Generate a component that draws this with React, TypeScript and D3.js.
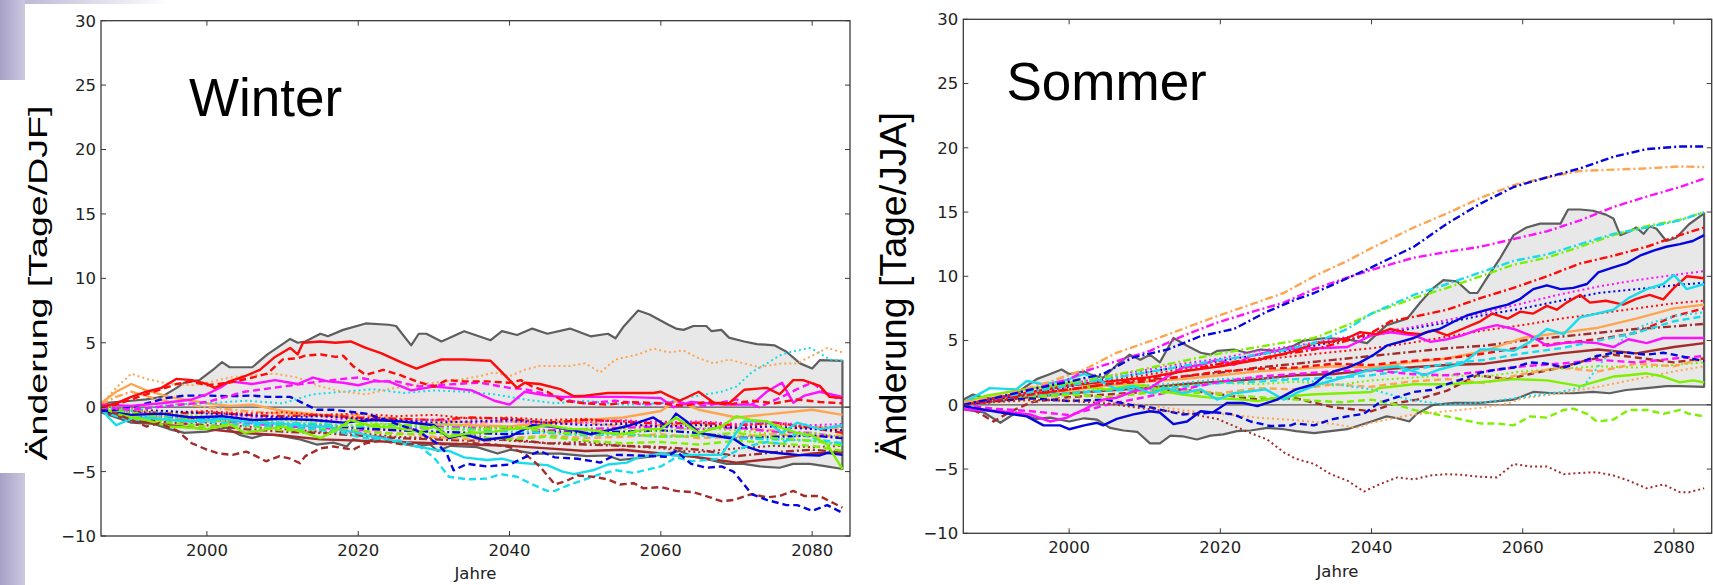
import React from 'react';
import * as d3 from 'd3';

type Pt = [number, number];

const X_DOMAIN: [number, number] = [1986, 2085];
const Y_DOMAIN: [number, number] = [-10, 30];
const X_TICKS = [2000, 2020, 2040, 2060, 2080];
const Y_TICKS = [-10, -5, 0, 5, 10, 15, 20, 25, 30];

const COLORS: Record<string, string> = {
  red: '#ff0a0a', magenta: '#ff10ff', blue: '#0505e0', cyan: '#18dcec',
  green: '#7cf000', orange: '#ffa450', brown: '#a52a2a',
};
const DASHES: Record<string, string | undefined> = {
  solid: undefined, dashed: '7,4', dashdot: '8,3,2,3', dotted: '2,3',
};

// ---------------- WINTER ----------------
const W_UPPER: Pt[] = [[1986,0.3],[1988,0.4],[1990,0.5],[1992,0.6],[1994,0.8],[1996,1.5],[1997,1.9],[1999,2.1],[2001,3.0],[2002,3.5],[2003,3.1],[2006,3.1],[2008,4.1],[2010,4.9],[2011,5.3],[2012,5.0],[2013,5.1],[2015,5.7],[2016,5.5],[2018,6.0],[2021,6.5],[2024,6.4],[2025,6.3],[2027,4.8],[2028,5.7],[2029,5.7],[2031,5.1],[2034,5.9],[2037.5,5.2],[2039,5.9],[2041,5.6],[2043,6.1],[2045,5.7],[2048,6.1],[2050.7,5.5],[2053,5.7],[2054,5.35],[2055,6.2],[2057,7.5],[2058.5,7.2],[2061,6.4],[2062,6.1],[2063,6.0],[2064.3,6.3],[2066,6.3],[2066.7,5.9],[2068,6.0],[2069,5.4],[2071,5.1],[2072.7,4.9],[2075,4.8],[2076.6,4.3],[2078.4,3.4],[2080,3.0],[2081,3.65],[2084,3.6]];
const W_LOWER: Pt[] = [[1986,-0.4],[1988,-0.8],[1990,-1.2],[1993,-1.3],[1995,-1.7],[1997,-2.0],[2000,-1.9],[2002.5,-1.6],[2004.3,-2.15],[2006,-2.4],[2007.4,-2.15],[2009,-2.15],[2010.5,-2.3],[2012.3,-2.5],[2014.5,-2.9],[2016.7,-2.75],[2018.5,-3.05],[2019.3,-2.5],[2021,-2.7],[2022.9,-2.3],[2025.5,-2.8],[2027.7,-3.05],[2029.5,-2.9],[2030.5,-3.4],[2032.2,-3.0],[2035.7,-3.1],[2038.4,-3.6],[2040.1,-3.3],[2043.2,-3.6],[2046.7,-3.6],[2050.2,-3.8],[2052.9,-3.75],[2054.6,-4.1],[2056.4,-4.0],[2058.6,-3.85],[2060.8,-3.6],[2062.5,-3.4],[2064.3,-3.85],[2066.5,-4.1],[2068.7,-4.4],[2070.9,-4.4],[2073.1,-4.6],[2075.7,-4.7],[2077.5,-4.4],[2079.7,-4.4],[2081.9,-4.6],[2084,-4.8]];

const W_RED_SOLID: Pt[] = [[1986,0],[1988,0.3],[1990,0.8],[1992,1.2],[1994,1.5],[1996,2.2],[1998,2.1],[2000,1.8],[2001,1.5],[2003,2.0],[2005,2.4],[2007,2.9],[2009,3.9],[2011,4.6],[2012,4.1],[2012.7,5.0],[2015,5.1],[2017,5.0],[2019,5.1],[2021,4.6],[2023,4.2],[2026,3.4],[2027.7,3.0],[2029.5,3.4],[2031,3.7],[2034,3.7],[2037.5,3.6],[2040,2.1],[2041,1.5],[2042,1.9],[2044,1.8],[2046.7,1.4],[2048.5,0.85],[2050,0.9],[2053,1.1],[2056,1.1],[2059,1.1],[2060,1.2],[2061,0.9],[2062.5,0.5],[2065,1.2],[2067,0.35],[2069,0.3],[2071,1.35],[2074,1.5],[2075.7,1.0],[2077.5,2.1],[2078.8,2.1],[2081,1.65],[2082.3,0.8],[2084,0.7]];
const W_RED_DASHED: Pt[] = [[1986,0],[1988,0.2],[1990,0.6],[1993,1.2],[1996,1.8],[1998,2.0],[2000,1.7],[2003,1.9],[2006,2.3],[2008,2.6],[2010,3.7],[2012,3.8],[2013,4.0],[2015,4.1],[2017,3.9],[2018,4.0],[2019.3,3.2],[2021,2.5],[2023.3,2.9],[2025.5,2.5],[2027.7,2.0],[2030,1.6],[2031.7,2.1],[2034,2.0],[2037,2.0],[2040,1.9],[2041.5,2.1],[2043,1.6],[2045,1.2],[2047,0.5],[2050,0.3],[2053,0.2],[2056,0.4],[2060,0.3],[2063,0.1],[2066,0.4],[2069,0.2],[2072,0.5],[2075,0.3],[2078,0.6],[2081,0.4],[2084,0.3]];
const W_RED_DASHDOT: Pt[] = [[1986,0],[1990,-0.3],[1995,-0.5],[2000,-0.4],[2005,-0.6],[2010,-0.7],[2015,-0.6],[2020,-0.8],[2025,-0.9],[2030,-1.0],[2035,-0.8],[2040,-0.9],[2045,-1.2],[2050,-1.0],[2055,-1.1],[2060,-1.3],[2065,-1.2],[2070,-1.4],[2075,-1.2],[2080,-1.6],[2084,-2.0]];
const W_RED_DOTTED: Pt[] = [[1986,-0.1],[1990,-0.2],[1995,-0.4],[2000,-0.3],[2005,-0.5],[2010,-0.4],[2015,-0.6],[2020,-0.5],[2025,-0.7],[2030,-0.6],[2035,-0.9],[2040,-0.8],[2045,-1.0],[2050,-0.9],[2055,-1.2],[2060,-1.1],[2065,-1.3],[2070,-1.5],[2075,-1.3],[2080,-1.6],[2084,-1.5]];
const W_MAGENTA_SOLID: Pt[] = [[1986,0.2],[1990,0.1],[1994,0.3],[1998,0.6],[2000,1.0],[2002,1.6],[2003,2.0],[2006,1.8],[2009,2.1],[2012,1.8],[2014,2.3],[2016,2.0],[2018,1.9],[2020,1.7],[2022,2.0],[2024,2.0],[2027,1.3],[2030,1.6],[2032,1.5],[2035,1.3],[2038,0.5],[2040,0.2],[2042,1.2],[2045,0.9],[2047,0.8],[2050,0.8],[2055,0.8],[2060,0.7],[2061.7,0.0],[2064,0.4],[2066,0.3],[2068.7,0.2],[2072,0.2],[2074,1.2],[2076,1.9],[2077.5,0.35],[2079,0.9],[2081,1.2],[2084,0.8]];
const W_MAGENTA_DASHED: Pt[] = [[1986,0],[1990,-0.2],[1995,0.1],[2000,0.4],[2005,1.2],[2010,1.6],[2015,2.0],[2018,2.2],[2020,2.3],[2023,2.0],[2025,2.0],[2028,1.6],[2030,1.7],[2033,1.8],[2036,1.9],[2040,1.5],[2042,1.4],[2045,1.0],[2048,0.5],[2050,0.3],[2054,0.5],[2058,0.2],[2062,0.4],[2066,0.1],[2070,0.6],[2073,0.0],[2076,0.8],[2078,1.4],[2080,1.9],[2082,1.0],[2084,0.5]];
const W_MAGENTA_DASHDOT: Pt[] = [[1986,-0.2],[1990,-0.5],[1995,-0.8],[2000,-1.0],[2005,-1.2],[2010,-1.5],[2015,-1.6],[2020,-1.8],[2025,-1.7],[2030,-1.5],[2035,-1.6],[2040,-1.6],[2045,-1.8],[2050,-1.7],[2055,-1.6],[2060,-1.5],[2065,-1.7],[2070,-1.6],[2075,-1.9],[2080,-2.0],[2084,-2.4]];
const W_MAGENTA_DOTTED: Pt[] = [[1986,-0.1],[1990,-0.3],[1995,-0.6],[2000,-0.8],[2005,-0.7],[2010,-0.9],[2015,-1.0],[2020,-0.9],[2025,-1.1],[2030,-1.0],[2035,-1.2],[2040,-1.1],[2045,-1.3],[2050,-1.2],[2055,-1.0],[2060,-1.2],[2065,-1.1],[2070,-1.3],[2075,-1.2],[2080,-1.4],[2084,-1.3]];
const W_BLUE_SOLID: Pt[] = [[1986,-0.3],[1990,-0.6],[1994,-0.5],[1998,-0.8],[2002,-0.7],[2006,-1.0],[2010,-0.9],[2014,-1.0],[2018,-1.2],[2022,-1.0],[2025.6,-1.1],[2030,-1.4],[2032,-2.4],[2034,-2.1],[2036.6,-2.55],[2040,-2.3],[2043,-1.4],[2045.4,-1.5],[2048.5,-1.8],[2050.7,-2.1],[2053.8,-1.7],[2056,-1.4],[2059,-0.8],[2060.8,-1.5],[2062,-0.5],[2063.4,-1.1],[2065,-2.0],[2068,-2.3],[2069.6,-2.45],[2071,-3.0],[2073,-3.4],[2076,-3.6],[2078,-3.7],[2081,-3.75],[2082,-3.55],[2084,-3.7]];
const W_BLUE_DASHED: Pt[] = [[1986,-0.3],[1988,-0.2],[1990,0.0],[1992,0.3],[1994.6,0.7],[1997,0.9],[2000,0.9],[2003,0.85],[2006,0.9],[2008,0.8],[2011,0.8],[2014.5,-0.2],[2016.7,-0.2],[2021,-0.5],[2023,-0.85],[2025.5,-1.4],[2027.7,-1.8],[2030.4,-2.8],[2031.7,-3.6],[2032.6,-4.9],[2034.4,-4.4],[2037,-4.6],[2040,-4.45],[2042,-3.9],[2044,-3.4],[2046,-3.9],[2049,-4.0],[2052,-4.3],[2054,-3.7],[2057,-3.75],[2060.8,-3.85],[2062,-3.4],[2064,-4.4],[2066,-4.7],[2068,-4.6],[2069.6,-5.0],[2071,-6.0],[2072,-6.75],[2074,-7.2],[2076.6,-7.6],[2078,-7.6],[2080,-8.05],[2082,-7.6],[2084,-8.2]];
const W_BLUE_DASHDOT: Pt[] = [[1986,-0.2],[1990,-0.4],[1995,-0.7],[2000,-0.9],[2005,-1.1],[2010,-1.3],[2015,-1.4],[2020,-1.6],[2025,-1.8],[2030,-1.9],[2035,-2.0],[2040,-2.1],[2045,-1.9],[2050,-2.0],[2055,-1.9],[2060,-1.8],[2065,-2.0],[2070,-2.4],[2075,-2.3],[2080,-2.2],[2084,-2.4]];
const W_BLUE_DOTTED: Pt[] = [[1986,0],[1990,-0.2],[1995,-0.3],[2000,-0.5],[2005,-0.6],[2010,-0.8],[2015,-0.7],[2020,-0.9],[2025,-1.0],[2030,-1.2],[2035,-1.1],[2040,-1.0],[2045,-1.2],[2050,-1.4],[2055,-1.3],[2060,-1.5],[2065,-1.4],[2070,-1.6],[2075,-1.5],[2080,-1.7],[2084,-1.8]];
const W_CYAN_SOLID: Pt[] = [[1986,0],[1987,-0.8],[1988,-1.4],[1990,-0.9],[1992,-0.8],[1995,-1.0],[1998,-1.1],[2002,-0.9],[2006,-1.2],[2010,-1.3],[2014,-1.5],[2016,-1.5],[2018,-1.8],[2020,-2.0],[2022,-2.3],[2024,-2.5],[2025.6,-2.8],[2030,-3.3],[2032,-3.4],[2034,-3.9],[2037,-4.1],[2039,-4.0],[2041,-4.3],[2043,-4.4],[2045,-4.5],[2047,-5.0],[2048.5,-5.2],[2051,-4.9],[2053,-4.45],[2055.5,-4.3],[2057,-3.9],[2060,-3.6],[2061.7,-3.75],[2064,-3.7],[2068,-3.7],[2069.6,-2.3],[2071,-1.1],[2074,-1.1],[2076,-2.0],[2078,-1.2],[2081,-1.7],[2084,-1.4]];
const W_CYAN_DASHED: Pt[] = [[1986,-0.3],[1988,-0.7],[1990,-1.0],[1994,-0.9],[1998,-1.1],[2002,-1.2],[2006,-1.4],[2010,-1.5],[2014,-1.7],[2018,-2.0],[2020,-2.3],[2022,-2.5],[2025.6,-2.6],[2028,-3.0],[2030,-3.9],[2032,-5.4],[2034.4,-5.6],[2037,-5.55],[2038.8,-5.2],[2041,-5.4],[2043,-6.0],[2045,-6.5],[2046,-6.5],[2048,-6.0],[2050,-5.6],[2052,-5.2],[2054,-4.9],[2056.4,-5.1],[2060,-4.6],[2062,-3.9],[2064,-4.2],[2068,-4.0],[2071,-3.1],[2074,-2.7],[2076,-2.85],[2078,-2.0],[2081,-2.55],[2084,-2.8]];
const W_CYAN_DASHDOT: Pt[] = [[1986,-0.1],[1990,-0.5],[1995,-0.7],[2000,-1.0],[2005,-1.0],[2010,-1.2],[2015,-1.3],[2020,-1.5],[2025,-1.4],[2030,-1.6],[2035,-1.7],[2040,-1.9],[2045,-2.0],[2050,-2.2],[2055,-2.1],[2060,-2.3],[2065,-2.2],[2070,-2.4],[2075,-2.5],[2080,-2.6],[2084,-2.9]];
const W_CYAN_DOTTED: Pt[] = [[1986,0],[1990,-0.3],[1995,0.2],[2000,0.3],[2005,0.5],[2010,0.3],[2014,1.0],[2018,1.2],[2022,1.4],[2026,1.1],[2030,1.3],[2034,1.2],[2038,1.0],[2042,0.6],[2046,0.3],[2050,0.5],[2055,0.2],[2060,0.3],[2064,0.8],[2066,1.0],[2068,1.2],[2070,1.6],[2072,2.7],[2074,3.4],[2076,4.1],[2078,4.4],[2079.7,4.6],[2081,4.2],[2082.3,3.7],[2084,3.6]];
const W_GREEN_SOLID: Pt[] = [[1986,0],[1988,-0.5],[1990,-0.8],[1992,-1.0],[1995,-1.5],[1998,-1.6],[2000,-1.7],[2003,-1.3],[2005,-2.0],[2008,-1.7],[2010,-1.5],[2013,-2.0],[2015,-2.4],[2017,-1.8],[2019,-1.0],[2022,-1.5],[2025,-1.6],[2028,-1.9],[2030,-1.5],[2032,-2.3],[2035,-2.0],[2038,-1.9],[2040,-1.7],[2043,-1.6],[2045,-1.4],[2048,-1.7],[2050,-1.7],[2053,-2.0],[2055,-2.1],[2058,-1.7],[2060,-1.7],[2062,-0.8],[2065,-2.0],[2068,-1.5],[2070,-0.7],[2072,-1.0],[2074,-1.1],[2076,-1.6],[2078,-2.0],[2080,-2.2],[2082,-2.9],[2084,-4.8]];
const W_GREEN_DASHED: Pt[] = [[1986,-0.2],[1990,-0.6],[1995,-1.2],[2000,-1.5],[2005,-1.4],[2010,-1.8],[2015,-1.7],[2020,-1.8],[2025,-2.1],[2030,-2.0],[2035,-2.3],[2040,-2.5],[2045,-2.3],[2050,-2.6],[2055,-2.8],[2060,-2.7],[2065,-2.9],[2070,-2.6],[2075,-2.8],[2080,-3.0],[2084,-3.4]];
const W_GREEN_DASHDOT: Pt[] = [[1986,0],[1990,-0.4],[1995,-0.9],[2000,-1.1],[2005,-1.0],[2010,-1.3],[2015,-1.5],[2020,-1.4],[2025,-1.3],[2030,-1.6],[2035,-1.8],[2040,-1.5],[2045,-1.9],[2050,-2.1],[2055,-2.0],[2060,-2.3],[2065,-2.2],[2070,-2.0],[2075,-2.4],[2080,-2.6],[2084,-3.0]];
const W_GREEN_DOTTED: Pt[] = [[1986,0.1],[1990,-0.2],[1995,-0.5],[2000,-0.7],[2005,-0.9],[2010,-1.0],[2015,-1.2],[2020,-1.1],[2025,-1.4],[2030,-1.3],[2035,-1.5],[2040,-1.6],[2045,-1.4],[2050,-1.8],[2055,-1.7],[2060,-1.9],[2065,-1.6],[2070,-1.8],[2075,-2.1],[2080,-2.0],[2084,-2.3]];
const W_ORANGE_SOLID: Pt[] = [[1986,0.3],[1988,1.2],[1990,1.8],[1992,1.3],[1995,0.8],[1998,0.5],[2000,0.3],[2003,0.1],[2006,0.2],[2010,-0.3],[2015,-0.6],[2020,-0.9],[2025,-1.1],[2030,-1.3],[2035,-1.4],[2040,-1.5],[2045,-1.2],[2050,-1.0],[2055,-0.8],[2060,-0.3],[2062,0.5],[2065,-0.2],[2070,-0.8],[2075,-0.5],[2080,-0.2],[2084,-0.6]];
const W_ORANGE_DASHED: Pt[] = [[1986,-0.1],[1990,-0.4],[1995,-0.8],[2000,-1.0],[2005,-1.3],[2010,-1.5],[2015,-1.7],[2020,-1.9],[2025,-2.0],[2030,-2.3],[2035,-2.5],[2040,-2.4],[2045,-2.2],[2050,-2.4],[2055,-2.3],[2060,-2.1],[2065,-2.4],[2070,-2.3],[2075,-2.1],[2080,-2.3],[2084,-2.2]];
const W_ORANGE_DASHDOT: Pt[] = [[1986,0.2],[1988,0.8],[1990,1.2],[1993,0.7],[1996,0.3],[2000,0.0],[2005,-0.3],[2010,-0.5],[2015,-0.7],[2020,-0.6],[2025,-0.9],[2030,-1.0],[2035,-1.2],[2040,-1.1],[2045,-1.3],[2050,-1.2],[2055,-1.5],[2060,-1.4],[2065,-1.3],[2070,-1.6],[2075,-1.8],[2080,-1.5],[2084,-1.7]];
const W_ORANGE_DOTTED: Pt[] = [[1986,0.2],[1988,1.5],[1990,2.6],[1992,2.2],[1995,1.8],[1998,1.7],[2000,1.9],[2003,2.3],[2006,2.5],[2009,2.6],[2012,2.3],[2015,1.6],[2018,1.2],[2021,1.0],[2024,1.4],[2027,1.7],[2030,1.9],[2033,2.1],[2036,2.4],[2038,2.7],[2040,2.4],[2042,2.9],[2044,3.2],[2048,3.2],[2050,3.4],[2052,2.7],[2054,3.7],[2057,4.1],[2059,4.55],[2061,4.25],[2063,4.4],[2065,3.8],[2067,3.4],[2069,3.7],[2071,3.4],[2073,3.1],[2076,3.4],[2078,3.4],[2080,4.0],[2082,4.6],[2084,4.25]];
const W_BROWN_SOLID: Pt[] = [[1986,-0.3],[1990,-1.0],[1995,-1.4],[2000,-1.7],[2005,-2.0],[2010,-2.2],[2015,-2.5],[2020,-2.6],[2025,-2.7],[2030,-2.8],[2035,-2.9],[2040,-3.0],[2045,-3.2],[2050,-3.4],[2055,-3.3],[2060,-3.6],[2065,-3.9],[2070,-4.3],[2075,-4.0],[2080,-3.6],[2084,-3.5]];
const W_BROWN_DASHED: Pt[] = [[1986,-0.2],[1988,-0.5],[1990,-1.0],[1992,-1.5],[1993.7,-1.25],[1996,-1.8],[1998,-2.8],[2000,-3.3],[2001.6,-3.6],[2003.4,-3.7],[2005.2,-3.45],[2006.5,-3.8],[2007.8,-4.2],[2009.6,-3.8],[2011,-4.0],[2012.3,-4.35],[2013,-3.8],[2015,-3.2],[2016.7,-3.05],[2019.3,-3.3],[2021,-2.8],[2023,-2.6],[2026,-2.9],[2029,-2.8],[2032,-2.9],[2035,-2.8],[2038,-2.9],[2040,-3.1],[2042,-3.6],[2044,-4.6],[2046,-6.0],[2047.6,-5.7],[2049,-5.3],[2051,-5.4],[2053,-5.6],[2054.6,-6.0],[2056.4,-5.9],[2057.7,-6.3],[2060,-6.2],[2062,-6.5],[2064.3,-6.6],[2066.5,-7.0],[2068,-7.3],[2069.6,-7.2],[2072,-6.75],[2074,-7.0],[2075.7,-6.9],[2077.5,-6.5],[2079,-6.9],[2081,-6.9],[2083,-7.5],[2084,-7.8]];
const W_BROWN_DASHDOT: Pt[] = [[1986,-0.2],[1990,-0.8],[1995,-1.2],[2000,-1.4],[2005,-1.7],[2010,-1.9],[2015,-2.0],[2020,-2.2],[2025,-2.4],[2030,-2.5],[2035,-2.6],[2040,-2.5],[2045,-2.8],[2050,-2.9],[2055,-3.0],[2060,-3.1],[2065,-3.3],[2070,-3.8],[2075,-3.5],[2080,-3.3],[2084,-3.5]];
const W_BROWN_DOTTED: Pt[] = [[1986,-0.1],[1990,-0.6],[1995,-1.0],[2000,-1.2],[2005,-1.5],[2010,-1.7],[2015,-1.9],[2020,-2.0],[2025,-2.3],[2030,-2.4],[2035,-2.2],[2040,-2.6],[2045,-2.8],[2050,-2.7],[2055,-3.0],[2060,-3.2],[2065,-3.5],[2070,-3.2],[2075,-3.0],[2080,-3.1],[2084,-3.0]];

// ---------------- SUMMER ----------------
const S_UPPER: Pt[] = [[1986,0.4],[1987.3,0.8],[1989,0.5],[1991,0.6],[1993,0.9],[1995.7,2.0],[1997.5,2.4],[1999,2.75],[2000,2.4],[2002,2.6],[2002.8,2.35],[2004.5,2.1],[2006.3,3.1],[2008,3.9],[2009.4,3.5],[2010.7,3.9],[2012,3.3],[2013.8,5.2],[2015.6,4.6],[2017.4,4.05],[2018.7,3.9],[2019.6,4.2],[2021.8,4.3],[2023.5,4.05],[2025.3,4.3],[2027.5,4.2],[2029.7,4.6],[2031,5.0],[2034,5.2],[2036.8,5.1],[2037.7,5.0],[2039.4,4.8],[2042,6.2],[2044.7,6.7],[2046.5,8.0],[2048.2,9.1],[2049.5,9.7],[2051.3,9.6],[2053,8.7],[2054,8.7],[2055.3,9.9],[2057,11.4],[2058.8,13.2],[2060.5,13.8],[2062.3,14.1],[2065,14.1],[2066,15.2],[2067.6,15.2],[2069.3,15.1],[2071,14.8],[2072,14.5],[2072.9,13.2],[2074.2,13.5],[2075,13.8],[2076,13.3],[2076.8,13.9],[2077.7,13.7],[2079,12.75],[2080.3,13.0],[2082,14.05],[2084,14.9]];
const S_LOWER: Pt[] = [[1986,-0.35],[1988.7,-0.6],[1990.9,-1.4],[1993,-0.6],[1995.7,-1.1],[1997.5,-1.0],[2000,-1.3],[2002,-1.05],[2003.7,-1.15],[2005.4,-1.8],[2007.2,-2.0],[2009,-2.1],[2010.7,-3.0],[2012,-3.0],[2013.4,-2.4],[2015,-2.45],[2016.9,-2.7],[2018.7,-2.4],[2020.4,-2.3],[2022.2,-2.05],[2024,-2.0],[2026.2,-1.8],[2028.4,-1.9],[2030,-2.05],[2032.4,-2.2],[2034.6,-2.05],[2036.8,-1.9],[2040,-1.3],[2042,-0.9],[2043.4,-1.05],[2045,-1.3],[2046,-0.7],[2048.2,0.0],[2051,0.15],[2054.4,0.15],[2058.8,0.4],[2061.4,1.0],[2064,0.9],[2066.7,0.9],[2069.3,1.0],[2071.5,0.9],[2073.7,1.15],[2076.4,1.3],[2079,1.45],[2080.8,1.45],[2084,1.4]];

const S_BLUE_DASHDOT: Pt[] = [[1986,0.0],[1990,0.5],[1995,1.2],[2000,1.8],[2004.5,2.4],[2008.5,3.7],[2013,4.3],[2017.4,5.35],[2021.8,5.9],[2026,7.2],[2030,8.2],[2032.4,8.7],[2036.8,9.85],[2040,10.7],[2045.6,12.3],[2050,14.1],[2054.4,15.65],[2058.8,16.95],[2063.2,17.7],[2067.6,18.4],[2072,19.3],[2076.4,19.9],[2080.8,20.1],[2084,20.1]];
const S_BLUE_SOLID: Pt[] = [[1986,-0.1],[1991,-0.6],[1994.4,-0.9],[1996.6,-1.6],[1998.8,-1.6],[2000,-1.9],[2002,-1.6],[2003.7,-1.4],[2004.5,-1.6],[2006.3,-1.1],[2008.5,-0.75],[2010.7,-0.5],[2012,-0.6],[2013.8,-1.5],[2015.6,-1.3],[2017.4,-0.5],[2019,-0.6],[2020.9,0.15],[2023,0.15],[2024.9,-0.1],[2027.5,0.4],[2030,1.2],[2032.4,1.6],[2033.7,2.2],[2035,2.6],[2036.8,2.9],[2038.5,3.3],[2040.3,3.9],[2042,4.6],[2043.8,4.9],[2045.6,5.2],[2047.3,5.65],[2049,5.9],[2051,6.5],[2052.6,6.95],[2054.4,7.25],[2056,7.5],[2058,7.8],[2059.7,8.25],[2061.4,9.0],[2063.2,9.3],[2065,9.0],[2066.7,9.1],[2068.5,9.4],[2070,10.3],[2072,10.7],[2073.7,11.0],[2075.5,11.6],[2077.3,12.0],[2079,12.3],[2080.8,12.5],[2082.5,12.75],[2084,13.2]];
const S_BLUE_DASHED: Pt[] = [[1986,0.0],[1990,0.3],[1995,0.5],[2000,0.3],[2005,0.4],[2008,0.0],[2010.7,-0.2],[2013,-0.5],[2015,-0.75],[2019.6,-0.6],[2021.8,-0.75],[2024,-1.3],[2026.6,-1.65],[2029.3,-1.6],[2030,-1.45],[2032.4,-1.6],[2034.6,-1.15],[2036.8,-0.9],[2039,-0.7],[2041,0.15],[2043.4,0.6],[2045.6,1.0],[2047.8,1.15],[2050,1.6],[2052,2.0],[2054.4,2.5],[2056.6,2.75],[2058.8,2.9],[2061,3.3],[2063.2,3.2],[2065.4,2.9],[2067.6,3.3],[2069.8,3.8],[2072,4.05],[2074,4.05],[2076.4,3.9],[2078.6,4.05],[2080.8,3.8],[2084,3.4]];
const S_BLUE_DOTTED: Pt[] = [[1986,0],[1990,0.4],[1995,0.9],[2000,1.4],[2005,2.0],[2010,2.5],[2015,3.0],[2020,3.4],[2025,3.9],[2030,4.3],[2035,4.9],[2040,5.4],[2045,5.9],[2050,6.4],[2055,7.0],[2060,7.5],[2065,8.1],[2070,8.7],[2075,9.0],[2080,9.3],[2084,9.5]];
const S_ORANGE_DASHDOT: Pt[] = [[1986,0.2],[1990,0.6],[1994,1.2],[1997.5,1.8],[2002,2.75],[2006.3,4.05],[2010.7,4.95],[2015,5.9],[2019.6,6.9],[2024,7.8],[2028.4,8.7],[2032.4,10.0],[2036.8,11.2],[2040,12.2],[2045.6,13.8],[2050,14.9],[2054.4,16.1],[2058.8,17.1],[2063.2,17.7],[2067.6,18.2],[2072,18.3],[2076.4,18.4],[2080.8,18.55],[2084,18.5]];
const S_ORANGE_SOLID: Pt[] = [[1986,0.0],[1990,0.4],[1995,0.9],[2000,1.1],[2005,1.5],[2010,1.8],[2015,2.0],[2020,2.3],[2025,2.6],[2030,2.8],[2035,3.0],[2040,2.9],[2045,3.3],[2050,3.6],[2055,4.2],[2060,5.2],[2065,5.6],[2070,6.0],[2075,6.7],[2080,7.5],[2084,7.8]];
const S_ORANGE_DASHED: Pt[] = [[1986,0.1],[1990,0.2],[1995,0.5],[2000,0.8],[2005,0.6],[2010,1.0],[2015,1.2],[2020,0.9],[2025,1.3],[2030,1.2],[2035,1.6],[2040,1.4],[2045,1.8],[2050,2.0],[2055,1.7],[2060,2.4],[2065,2.9],[2070,2.6],[2075,3.2],[2080,3.0],[2084,3.6]];
const S_ORANGE_DOTTED: Pt[] = [[1986,0.0],[1990,0.2],[1995,0.3],[2000,0.5],[2005,0.2],[2010,0.0],[2015,-0.4],[2020,-0.7],[2025,-1.0],[2030,-1.2],[2035,-1.5],[2038,-1.8],[2040,-1.4],[2045,-0.8],[2050,-0.5],[2055,-0.2],[2058,0.1],[2060,0.5],[2065,0.9],[2070,1.4],[2075,2.0],[2080,2.6],[2084,3.0]];
const S_MAGENTA_DASHDOT: Pt[] = [[1986,0.0],[1990,0.5],[1995,1.2],[2000,2.0],[2002,2.6],[2006.3,3.4],[2010.7,4.2],[2015,5.35],[2019.6,6.4],[2024,7.2],[2028.4,7.95],[2032.4,9.0],[2036.8,9.9],[2040,10.5],[2045.6,11.45],[2050,11.9],[2054.4,12.3],[2058.8,12.9],[2063.2,13.5],[2067.6,14.35],[2072,15.4],[2076.4,16.2],[2080.8,16.95],[2084,17.6]];
const S_MAGENTA_SOLID: Pt[] = [[1986,-0.35],[1991,-0.5],[1994.8,-0.75],[1997.5,-1.3],[1999.7,-1.0],[2002,-0.35],[2004.5,0.4],[2006.3,0.55],[2008.5,1.05],[2010.7,1.3],[2013,2.2],[2015,2.9],[2017.4,3.1],[2019.6,3.5],[2021.8,3.1],[2024,3.8],[2026,4.05],[2028.4,4.3],[2030,4.4],[2033,4.4],[2036.8,4.5],[2040,5.4],[2042.5,5.65],[2045.6,5.4],[2047.8,4.9],[2050,5.1],[2052,5.4],[2054.4,5.9],[2056.6,6.2],[2058.8,5.9],[2061,5.4],[2063.2,4.6],[2065.4,4.8],[2067.6,4.9],[2069.8,4.8],[2072,4.5],[2074,5.1],[2076.4,4.8],[2078.6,5.2],[2080.8,5.2],[2084,5.2]];
const S_MAGENTA_DASHED: Pt[] = [[1986,0],[1990,-0.3],[1995,-0.5],[2000,-0.8],[2005,0.0],[2010,0.6],[2015,1.2],[2020,1.8],[2025,2.2],[2030,2.4],[2035,2.6],[2040,2.7],[2045,2.4],[2050,2.3],[2055,2.6],[2060,3.0],[2065,3.2],[2070,3.5],[2075,3.3],[2080,3.6],[2084,3.8]];
const S_MAGENTA_DOTTED: Pt[] = [[1986,0],[1990,0.5],[1995,1.0],[2000,1.6],[2005,2.2],[2010,2.7],[2015,3.2],[2020,3.6],[2025,4.2],[2030,4.6],[2035,5.1],[2040,5.6],[2045,6.0],[2050,6.6],[2055,7.2],[2060,7.9],[2065,8.6],[2070,9.2],[2075,9.7],[2080,10.1],[2084,10.4]];
const S_CYAN_DASHDOT: Pt[] = [[1986,0.0],[1990,0.5],[1995,1.0],[2000,1.5],[2005,2.0],[2010,2.5],[2015,3.0],[2020,3.5],[2025,3.9],[2028,4.2],[2032.4,4.8],[2036.8,5.9],[2040,7.1],[2045.6,8.55],[2050,9.4],[2054.4,10.3],[2058.8,11.2],[2063.2,11.7],[2067.6,12.5],[2072,13.3],[2076.4,13.8],[2080.8,14.35],[2084,15.0]];
const S_CYAN_SOLID: Pt[] = [[1986,0.15],[1989.5,1.3],[1993,1.2],[1994.4,1.85],[1996.6,1.6],[1999.2,1.85],[2002,2.4],[2003.7,2.0],[2006.3,1.2],[2008.5,1.45],[2010.7,0.9],[2013,1.3],[2015,0.9],[2017.4,1.2],[2019.6,0.4],[2021.8,0.9],[2024,1.05],[2026,1.2],[2028.4,0.4],[2030,0.9],[2033,1.6],[2036.8,2.2],[2040,2.75],[2043.4,3.0],[2045.6,2.6],[2047,2.3],[2049,2.75],[2052,3.2],[2054.4,4.3],[2056.6,4.3],[2058.8,4.2],[2061,4.9],[2063.2,5.9],[2065.4,5.5],[2067.6,6.8],[2069.8,7.1],[2072,7.4],[2074,8.3],[2076.4,9.0],[2078.6,9.4],[2080,10.1],[2081.7,9.0],[2084,9.4]];
const S_CYAN_DASHED: Pt[] = [[1986,0],[1990,0.3],[1995,0.7],[2000,0.9],[2005,1.1],[2010,1.2],[2015,1.4],[2020,1.7],[2025,1.8],[2030,2.0],[2035,2.1],[2040,2.3],[2045,2.7],[2050,3.2],[2055,3.5],[2060,4.0],[2065,4.4],[2070,5.0],[2075,5.6],[2080,6.5],[2084,6.9]];
const S_CYAN_DOTTED: Pt[] = [[1986,0],[1990,0.2],[1995,0.6],[2000,0.9],[2005,1.2],[2010,1.5],[2015,1.7],[2020,2.0],[2025,2.1],[2030,2.0],[2035,1.6],[2040,1.2],[2045,0.4],[2050,0.0],[2055,0.2],[2060,0.6],[2065,1.0],[2068,1.4],[2070,3.0],[2073,5.0],[2076,6.2],[2080,6.9],[2084,7.2]];
const S_GREEN_DASHDOT: Pt[] = [[1986,0.1],[1990,0.6],[1995,1.1],[2000,1.6],[2005,2.2],[2010,2.8],[2015,3.4],[2020,4.0],[2025,4.5],[2028,4.8],[2032.4,5.2],[2036.8,6.2],[2040,7.1],[2045.6,8.3],[2050,9.1],[2054.4,10.0],[2058.8,10.9],[2063.2,11.45],[2067.6,12.3],[2072,13.2],[2076.4,13.9],[2080.8,14.4],[2084,15.0]];
const S_GREEN_SOLID: Pt[] = [[1986,0.2],[1989,0.7],[1992,1.0],[1995,1.3],[1998,1.5],[2001,1.8],[2003,1.3],[2005,1.2],[2008,1.5],[2010,1.5],[2013,1.0],[2015,0.8],[2018,0.6],[2020,0.5],[2023,0.4],[2025,0.3],[2028,0.6],[2032,0.8],[2036,0.9],[2040,1.0],[2041,1.3],[2045.6,1.6],[2050,1.6],[2054.4,1.75],[2058.8,2.0],[2063.2,1.9],[2067.6,1.45],[2072,2.2],[2074,2.3],[2076.4,2.45],[2078.6,2.2],[2080.8,1.75],[2082.5,1.9],[2084,1.75]];
const S_GREEN_DASHED: Pt[] = [[1986,0.0],[1990,0.3],[1995,0.6],[2000,0.8],[2005,0.6],[2010,0.9],[2015,1.0],[2020,0.8],[2025,0.6],[2030,0.4],[2036,0.2],[2040,0.4],[2043.4,0.0],[2045.6,-0.4],[2048.2,-0.7],[2050,-0.9],[2052,-1.15],[2054.4,-1.45],[2056.6,-1.45],[2058.8,-1.6],[2061,-0.9],[2063.2,-1.0],[2065.4,-0.4],[2066.7,-0.3],[2068.5,-0.7],[2069.8,-1.3],[2072,-1.15],[2074,-0.4],[2076.4,-0.4],[2078.6,-0.7],[2080.8,-0.4],[2082,-0.7],[2084,-0.9]];
const S_GREEN_DOTTED: Pt[] = [[1986,0.1],[1990,0.4],[1995,0.7],[2000,1.0],[2005,1.2],[2010,1.3],[2015,1.5],[2020,1.7],[2025,1.6],[2030,1.8],[2035,1.5],[2040,1.9],[2045,2.1],[2050,2.3],[2055,2.2],[2060,2.6],[2065,2.8],[2070,3.0],[2075,2.9],[2080,3.1],[2084,3.3]];
const S_RED_DASHDOT: Pt[] = [[1986,0.0],[1990,0.3],[1995,0.8],[2000,1.2],[2005,1.6],[2010,2.0],[2015,2.6],[2020,3.2],[2025,3.6],[2028,3.9],[2032.4,4.3],[2036.8,5.0],[2040,5.6],[2042.5,6.5],[2046,6.9],[2050,7.4],[2054.4,8.3],[2058.8,9.1],[2063.2,10.0],[2067.6,11.0],[2072,11.6],[2076.4,12.3],[2080.8,13.2],[2084,13.8]];
const S_RED_SOLID: Pt[] = [[1986,0.0],[1990,0.5],[1995,1.0],[2000,1.5],[2005,1.8],[2010,2.1],[2015,2.6],[2020,3.0],[2025,3.5],[2030,4.2],[2032.4,4.8],[2034.6,4.9],[2036.8,5.2],[2038.5,5.65],[2040.7,5.5],[2042.5,5.9],[2044.7,5.6],[2046.5,5.5],[2048.2,5.8],[2050,5.4],[2052,5.9],[2054.4,6.5],[2056,7.1],[2058,6.7],[2059.7,7.25],[2061.4,7.1],[2063.2,7.7],[2064.5,7.4],[2065.8,7.95],[2067.6,8.55],[2068.9,7.95],[2071,8.1],[2073.3,7.8],[2075,8.25],[2076.8,8.55],[2078.6,8.2],[2080,9.1],[2081.7,10.0],[2084,9.85]];
const S_RED_DASHED: Pt[] = [[1986,0],[1990,0.4],[1995,0.8],[2000,1.2],[2005,1.6],[2010,1.8],[2015,2.2],[2020,2.6],[2025,2.8],[2030,2.9],[2035,3.2],[2040,3.1],[2045,3.4],[2050,3.6],[2055,4.0],[2060,4.5],[2065,4.8],[2070,5.1],[2075,5.6],[2080,6.9],[2084,7.5]];
const S_RED_DOTTED: Pt[] = [[1986,0],[1990,0.5],[1995,1.0],[2000,1.5],[2005,1.9],[2010,2.3],[2015,2.8],[2020,3.2],[2025,3.5],[2030,3.8],[2035,4.1],[2040,4.4],[2045,4.8],[2050,5.3],[2055,5.8],[2060,6.2],[2065,6.7],[2070,7.1],[2075,7.5],[2080,7.9],[2084,8.1]];
const S_BROWN_DOTTED: Pt[] = [[1986,0.0],[1990,0.2],[1995,0.4],[2000,0.3],[2005,0.1],[2010,-0.3],[2015,-0.6],[2019.6,-1.1],[2024,-2.2],[2026.2,-2.7],[2028.4,-3.7],[2030,-4.2],[2032.4,-4.6],[2034.6,-5.4],[2036.8,-5.9],[2039,-6.75],[2041,-6.2],[2043.4,-5.65],[2045.6,-5.8],[2047.8,-5.5],[2050,-5.4],[2052,-5.45],[2054.4,-5.6],[2056.6,-5.65],[2058.8,-4.6],[2061,-4.8],[2063.2,-4.8],[2065.4,-5.4],[2067.6,-5.3],[2069.8,-5.25],[2072,-5.5],[2074,-5.9],[2076.4,-6.5],[2078.6,-6.2],[2080.8,-6.8],[2082,-6.8],[2084,-6.5]];
const S_BROWN_DASHED: Pt[] = [[1986,0.0],[1988,-0.6],[1990,-1.3],[1992,-0.6],[1995,0.2],[2000,0.6],[2005,0.8],[2010,1.0],[2015,1.2],[2020,0.8],[2025,0.4],[2030,0.5],[2035,-0.2],[2040,-0.5],[2043,0.1],[2046,0.4],[2050,1.1],[2054,2.3],[2058,2.0],[2061,2.4],[2065,2.9],[2068,3.4],[2072,3.9],[2076,3.6],[2080,3.3],[2084,3.6]];
const S_BROWN_SOLID: Pt[] = [[1986,0],[1990,0.3],[1995,0.6],[2000,0.9],[2005,1.1],[2010,1.3],[2015,1.6],[2020,1.8],[2025,2.0],[2030,2.3],[2035,2.4],[2040,2.7],[2045,2.9],[2050,3.1],[2055,3.2],[2060,3.6],[2065,4.0],[2070,4.3],[2075,4.0],[2080,4.5],[2084,4.8]];
const S_BROWN_DASHDOT: Pt[] = [[1986,0.1],[1990,0.4],[1995,0.8],[2000,1.2],[2005,1.5],[2010,1.9],[2015,2.2],[2020,2.5],[2025,2.9],[2030,3.2],[2035,3.5],[2040,3.8],[2045,4.1],[2050,4.4],[2055,4.6],[2060,5.0],[2065,5.3],[2070,5.6],[2075,5.9],[2080,6.1],[2084,6.3]];

type Series = { color: string; style: string; data: Pt[] };

const WINTER: Series[] = [
  { color: 'brown', style: 'dotted', data: W_BROWN_DOTTED },
  { color: 'brown', style: 'dashdot', data: W_BROWN_DASHDOT },
  { color: 'brown', style: 'solid', data: W_BROWN_SOLID },
  { color: 'orange', style: 'dashed', data: W_ORANGE_DASHED },
  { color: 'orange', style: 'dashdot', data: W_ORANGE_DASHDOT },
  { color: 'orange', style: 'solid', data: W_ORANGE_SOLID },
  { color: 'red', style: 'dotted', data: W_RED_DOTTED },
  { color: 'red', style: 'dashdot', data: W_RED_DASHDOT },
  { color: 'magenta', style: 'dotted', data: W_MAGENTA_DOTTED },
  { color: 'magenta', style: 'dashdot', data: W_MAGENTA_DASHDOT },
  { color: 'blue', style: 'dotted', data: W_BLUE_DOTTED },
  { color: 'blue', style: 'dashdot', data: W_BLUE_DASHDOT },
  { color: 'cyan', style: 'dashdot', data: W_CYAN_DASHDOT },
  { color: 'green', style: 'dotted', data: W_GREEN_DOTTED },
  { color: 'green', style: 'dashdot', data: W_GREEN_DASHDOT },
  { color: 'green', style: 'dashed', data: W_GREEN_DASHED },
  { color: 'blue', style: 'solid', data: W_BLUE_SOLID },
  { color: 'cyan', style: 'solid', data: W_CYAN_SOLID },
  { color: 'cyan', style: 'dashed', data: W_CYAN_DASHED },
  { color: 'green', style: 'solid', data: W_GREEN_SOLID },
  { color: 'brown', style: 'dashed', data: W_BROWN_DASHED },
  { color: 'blue', style: 'dashed', data: W_BLUE_DASHED },
  { color: 'cyan', style: 'dotted', data: W_CYAN_DOTTED },
  { color: 'orange', style: 'dotted', data: W_ORANGE_DOTTED },
  { color: 'magenta', style: 'dashed', data: W_MAGENTA_DASHED },
  { color: 'magenta', style: 'solid', data: W_MAGENTA_SOLID },
  { color: 'red', style: 'dashed', data: W_RED_DASHED },
  { color: 'red', style: 'solid', data: W_RED_SOLID },
];

const SUMMER: Series[] = [
  { color: 'brown', style: 'dashdot', data: S_BROWN_DASHDOT },
  { color: 'brown', style: 'solid', data: S_BROWN_SOLID },
  { color: 'brown', style: 'dashed', data: S_BROWN_DASHED },
  { color: 'green', style: 'dotted', data: S_GREEN_DOTTED },
  { color: 'orange', style: 'dashed', data: S_ORANGE_DASHED },
  { color: 'orange', style: 'solid', data: S_ORANGE_SOLID },
  { color: 'orange', style: 'dotted', data: S_ORANGE_DOTTED },
  { color: 'red', style: 'dotted', data: S_RED_DOTTED },
  { color: 'red', style: 'dashed', data: S_RED_DASHED },
  { color: 'cyan', style: 'dashed', data: S_CYAN_DASHED },
  { color: 'cyan', style: 'dotted', data: S_CYAN_DOTTED },
  { color: 'blue', style: 'dotted', data: S_BLUE_DOTTED },
  { color: 'magenta', style: 'dotted', data: S_MAGENTA_DOTTED },
  { color: 'magenta', style: 'dashed', data: S_MAGENTA_DASHED },
  { color: 'green', style: 'dashed', data: S_GREEN_DASHED },
  { color: 'green', style: 'solid', data: S_GREEN_SOLID },
  { color: 'blue', style: 'dashed', data: S_BLUE_DASHED },
  { color: 'brown', style: 'dotted', data: S_BROWN_DOTTED },
  { color: 'magenta', style: 'solid', data: S_MAGENTA_SOLID },
  { color: 'red', style: 'solid', data: S_RED_SOLID },
  { color: 'cyan', style: 'solid', data: S_CYAN_SOLID },
  { color: 'red', style: 'dashdot', data: S_RED_DASHDOT },
  { color: 'green', style: 'dashdot', data: S_GREEN_DASHDOT },
  { color: 'cyan', style: 'dashdot', data: S_CYAN_DASHDOT },
  { color: 'blue', style: 'solid', data: S_BLUE_SOLID },
  { color: 'magenta', style: 'dashdot', data: S_MAGENTA_DASHDOT },
  { color: 'orange', style: 'dashdot', data: S_ORANGE_DASHDOT },
  { color: 'blue', style: 'dashdot', data: S_BLUE_DASHDOT },
];

const TICK_FONT = '"DejaVu Sans", sans-serif';
const LABEL_FONT = '"Liberation Sans", Arial, sans-serif';

type PanelProps = {
  id: string;
  box: { x0: number; x1: number; y0: number; y1: number };
  series: Series[];
  upper: Pt[];
  lower: Pt[];
  title: string;
  titleX: number;
  titleY: number;
  ylabel: string;
  ylabelX: number;
  ylabelY: number;
  ylabelSize: number;
  ylabelLen: number;
  tickLabelY: number;
  xlabelY: number;
};

const fmt = (v: number) => (v < 0 ? '\u2212' + Math.abs(v) : String(v));

function Panel(p: PanelProps) {
  const { box } = p;
  const x = d3.scaleLinear().domain(X_DOMAIN).range([box.x0, box.x1]);
  const y = d3.scaleLinear().domain(Y_DOMAIN).range([box.y1, box.y0]);
  const line = d3.line<Pt>().x((d) => x(d[0])).y((d) => y(d[1]));
  const band = [...p.upper, ...[...p.lower].reverse()];
  const bandPath = line(band) + 'Z';
  const tickLen = 5;
  const axisColor = '#3a3a3a';
  return (
    <g>
      <defs>
        <clipPath id={p.id + '-clip'}>
          <rect x={box.x0} y={box.y0} width={box.x1 - box.x0} height={box.y1 - box.y0} />
        </clipPath>
      </defs>
      <g clipPath={`url(#${p.id}-clip)`}>
        <path d={bandPath} fill="#e8e8e8" stroke="#5e5e5e" strokeWidth={2.2} strokeLinejoin="round" />
        <line x1={box.x0} x2={box.x1} y1={y(0)} y2={y(0)} stroke="#555" strokeWidth={1.3} />
        {p.series.map((s, i) => (
          <path
            key={i}
            d={line(s.data) || ''}
            fill="none"
            stroke={COLORS[s.color]}
            strokeWidth={s.style === 'dotted' ? 2.0 : 2.4}
            strokeDasharray={DASHES[s.style]}
            strokeLinejoin="round"
          />
        ))}
      </g>
      <rect x={box.x0} y={box.y0} width={box.x1 - box.x0} height={box.y1 - box.y0} fill="none" stroke={axisColor} strokeWidth={1.3} />
      {X_TICKS.map((t) => (
        <g key={'xt' + t}>
          <line x1={x(t)} x2={x(t)} y1={box.y1} y2={box.y1 - tickLen} stroke={axisColor} strokeWidth={1} />
          <line x1={x(t)} x2={x(t)} y1={box.y0} y2={box.y0 + tickLen} stroke={axisColor} strokeWidth={1} />
          <text x={x(t)} y={p.tickLabelY} textAnchor="middle" fontFamily={TICK_FONT} fontSize={16.5} fill="#222">
            {t}
          </text>
        </g>
      ))}
      {Y_TICKS.map((t) => (
        <g key={'yt' + t}>
          <line x1={box.x0} x2={box.x0 + tickLen} y1={y(t)} y2={y(t)} stroke={axisColor} strokeWidth={1} />
          <line x1={box.x1} x2={box.x1 - tickLen} y1={y(t)} y2={y(t)} stroke={axisColor} strokeWidth={1} />
          <text x={box.x0 - 5} y={y(t)} dy="0.36em" textAnchor="end" fontFamily={TICK_FONT} fontSize={16.5} fill="#222">
            {fmt(t)}
          </text>
        </g>
      ))}
      <text x={(box.x0 + box.x1) / 2} y={p.xlabelY} textAnchor="middle" fontFamily={TICK_FONT} fontSize={16.5} fill="#222">
        Jahre
      </text>
      <text x={p.titleX} y={p.titleY} fontFamily={LABEL_FONT} fontSize={53} fill="#000">
        {p.title}
      </text>
      <text
        transform={`translate(${p.ylabelX},${p.ylabelY}) rotate(-90)`}
        textAnchor="middle"
        fontFamily={LABEL_FONT}
        fontSize={p.ylabelSize}
        textLength={p.ylabelLen}
        lengthAdjust="spacingAndGlyphs"
        fill="#000"
      >
        {p.ylabel}
      </text>
    </g>
  );
}

export default function App() {
  return (
    <svg width={1713} height={585} style={{ position: 'absolute', left: 0, top: 0, background: '#fff' }}>
      <defs>
        <linearGradient id="lav" x1="0" x2="1" y1="0" y2="0">
          <stop offset="0" stopColor="#a7a1c7" />
          <stop offset="1" stopColor="#ccc8df" />
        </linearGradient>
        <linearGradient id="lavTop" x1="0" x2="1" y1="0" y2="0">
          <stop offset="0" stopColor="#bfbad7" />
          <stop offset="1" stopColor="#ffffff" />
        </linearGradient>
      </defs>
      <rect x={0} y={0} width={1713} height={585} fill="#fff" />
      <rect x={0} y={0} width={25} height={80} fill="url(#lav)" />
      <rect x={25} y={0} width={145} height={4} fill="url(#lavTop)" />
      <rect x={0} y={473} width={25} height={112} fill="url(#lav)" />
      <Panel
        id="winter"
        box={{ x0: 101, x1: 850, y0: 20.7, y1: 536 }}
        series={WINTER}
        upper={W_UPPER}
        lower={W_LOWER}
        title="Winter"
        titleX={189}
        titleY={116}
        ylabel="Änderung [Tage/DJF]"
        ylabelX={46.5}
        ylabelY={283}
        ylabelSize={25}
        ylabelLen={355}
        tickLabelY={555.5}
        xlabelY={579}
      />
      <Panel
        id="summer"
        box={{ x0: 963.3, x1: 1711.7, y0: 19.3, y1: 533.3 }}
        series={SUMMER}
        upper={S_UPPER}
        lower={S_LOWER}
        title="Sommer"
        titleX={1006.5}
        titleY={99.5}
        ylabel="Änderung [Tage/JJA]"
        ylabelX={906}
        ylabelY={286}
        ylabelSize={36}
        ylabelLen={348}
        tickLabelY={553}
        xlabelY={577}
      />
    </svg>
  );
}
